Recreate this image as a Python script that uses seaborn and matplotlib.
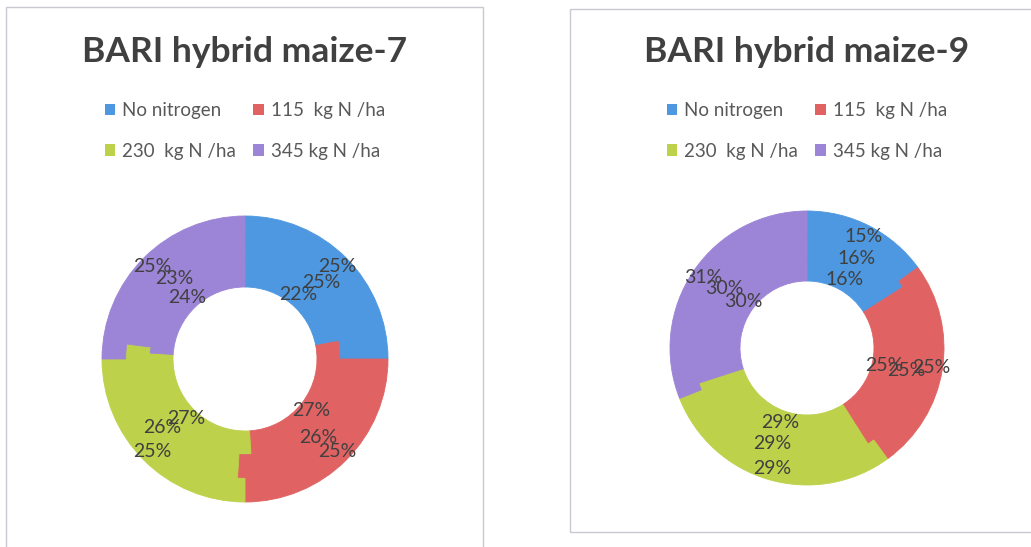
import matplotlib
matplotlib.use("Agg")
import matplotlib.pyplot as plt
import seaborn as sns
from matplotlib.patches import Patch, Rectangle

# categories shared by both charts
categories = ["No nitrogen", "115  kg N /ha", "230  kg N /ha", "345 kg N /ha"]

# BARI hybrid maize-7, rings from inside out
maize7_inner = [22, 27, 27, 24]
maize7_middle = [25, 26, 26, 23]
maize7_outer = [25, 25, 25, 25]

# BARI hybrid maize-9, rings from inside out
maize9_inner = [16, 25, 29, 30]
maize9_middle = [16, 25, 29, 30]
maize9_outer = [15, 25, 29, 31]

titles = ["BARI hybrid maize-7", "BARI hybrid maize-9"]

sns.set_theme(style="white")
plt.rcParams["font.family"] = ["Lato", "DejaVu Sans"]

colors = ["#4d98e0", "#e06262", "#bdd14a", "#9c84d6"]

W, H = 1031, 547
fig = plt.figure(figsize=(W / 100, H / 100), dpi=100)
fig.patch.set_facecolor("white")

# panel frames (pixel coords converted to figure fraction)
def px_rect(x0, y0, x1, y1):
    return Rectangle((x0 / W, 1 - y1 / H), (x1 - x0) / W, (y1 - y0) / H,
                     transform=fig.transFigure, fill=False,
                     edgecolor="#c9c9d2", linewidth=1.0)

fig.patches.append(px_rect(6, 7, 483, 560))
fig.patches.append(px_rect(570, 9, 1040, 532))


def donut(cx, cy, r_out, r_hole, rings, title, seam):
    ax = fig.add_axes([(cx - r_out) / W, 1 - (cy + r_out) / H,
                       2 * r_out / W, 2 * r_out / H])
    hole = r_hole / r_out
    w = (1 - hole) / 3
    for i, vals in enumerate(rings):
        radius = hole + w * (i + 1)
        wedges, _, _ = ax.pie(vals, radius=radius, colors=colors, startangle=90,
                              counterclock=False, autopct="%.0f%%",
                              pctdistance=(radius - w / 2) / radius,
                              wedgeprops=dict(width=w, linewidth=0.6),
                              textprops=dict(color="#404040", fontsize=14))
        for wdg in wedges:
            wdg.set_edgecolor(seam if seam else wdg.get_facecolor())
    ax.set_xlim(-1, 1)
    ax.set_ylim(-1, 1)
    ax.set_aspect("equal")
    ax.axis("off")

    fig.text(cx / W, 1 - 52 / H, title, ha="center", va="center",
             fontsize=25.5, fontweight="bold", color="#404040")
    # legend fills column-wise, so reorder to get row-wise entries
    order = [0, 2, 1, 3]
    handles = [Patch(facecolor=colors[k], edgecolor="none") for k in order]
    labels = [categories[k] for k in order]
    fig.legend(handles, labels, loc="center", ncol=2,
               bbox_to_anchor=(cx / W, 1 - 131 / H), frameon=False,
               fontsize=13.5, labelcolor="#595959", handlelength=0.55,
               handleheight=0.55, handletextpad=0.4, columnspacing=0.9,
               labelspacing=1.25)


donut(245, 359, 143, 72, [maize7_inner, maize7_middle, maize7_outer], titles[0], None)
donut(807, 348, 137, 67, [maize9_inner, maize9_middle, maize9_outer], titles[1], None)

fig.savefig("out.png", dpi=100, facecolor="white")
